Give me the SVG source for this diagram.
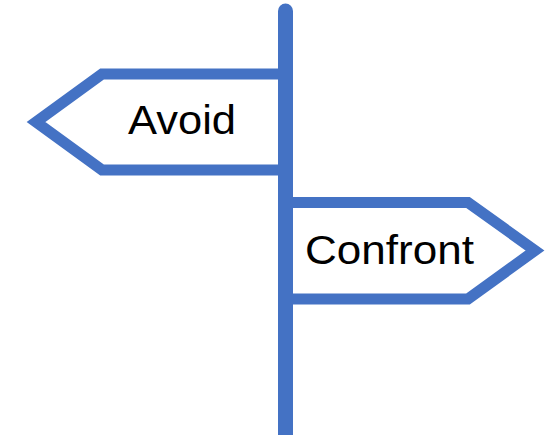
<svg xmlns="http://www.w3.org/2000/svg" width="559" height="435" viewBox="0 0 559 435">
<style>
.sign{fill:#FFFFFF;stroke:#4472C4;stroke-width:11;stroke-linejoin:miter}
.pole{stroke:#4472C4;stroke-width:15;stroke-linecap:round;fill:none}
.lbl{font-family:"Liberation Sans",Arial,sans-serif;font-size:41px;fill:#000000}
</style>
<rect width="559" height="435" fill="#FFFFFF"/>
<g id="sign-avoid">
<polygon class="sign" points="285,74 102,74 36,122 102,170 285,170"/>
<text class="lbl" x="128" y="134" textLength="108" lengthAdjust="spacingAndGlyphs">Avoid</text>
</g>
<g id="sign-confront">
<polygon class="sign" points="285,202.5 468,202.5 535,250.5 468,299 285,299"/>
<text class="lbl" x="305" y="264" textLength="169" lengthAdjust="spacingAndGlyphs">Confront</text>
</g>
<g id="pole">
<line class="pole" x1="285.5" y1="11" x2="285.5" y2="445"/>
</g>
</svg>
